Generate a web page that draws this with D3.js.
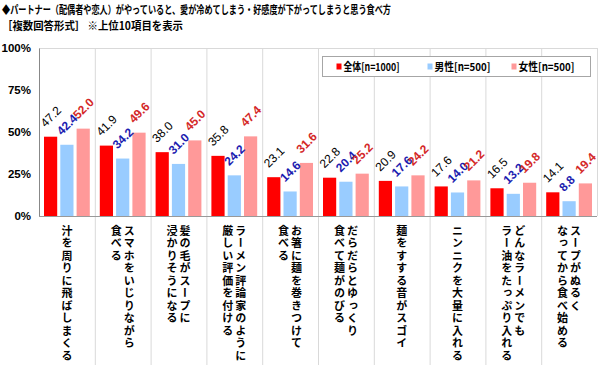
<!DOCTYPE html>
<html>
<head>
<meta charset="utf-8">
<script src="https://cdn.jsdelivr.net/npm/d3@7"></script>
<style>
  body { margin: 0; background: #fff; }
  svg { display: block; }
</style>
</head>
<body>
<div id="chartHolder"></div>
<script>
// data
var categories = [
  ["汁を周りに飛ばしまくる"],
  ["スマホをいじりながら", "食べる"],
  ["髪の毛がスープに", "浸かりそうになる"],
  ["ラーメン評論家のように", "厳しい評価を付ける"],
  ["お箸に麺を巻きつけて", "食べる"],
  ["だらだらとゆっくり", "食べて麺がのびる"],
  ["麺をすする音がスゴイ"],
  ["ニンニクを大量に入れる"],
  ["どんなラーメンでも", "ラー油をたっぷり入れる"],
  ["スープがぬるく", "なってから食べ始める"]
];
var totalValues = [47.2, 41.9, 38.0, 35.8, 23.1, 22.8, 20.9, 17.6, 16.5, 14.1];
var maleValues = [42.4, 34.2, 31.0, 24.2, 14.6, 20.4, 17.6, 14.0, 13.2, 8.8];
var femaleValues = [52.0, 49.6, 45.0, 47.4, 31.6, 25.2, 24.2, 21.2, 19.8, 19.4];
var seriesNames = ["全体[n=1000]", "男性[n=500]", "女性[n=500]"];
var yTicks = [0, 25, 50, 75, 100];
var titleLines = [
  "◆パートナー（配偶者や恋人）がやっていると、愛が冷めてしまう・好感度が下がってしまうと思う食べ方",
  "［複数回答形式］ ※上位10項目を表示"
];

var barColors = ["#ff0000", "#99ccff", "#ff9999"];
var labelColors = ["#000000", "#1c1cb0", "#d42828"];

var jpFont = "'Noto Sans CJK JP', sans-serif";
var numFont = "'Liberation Sans', Arial, sans-serif";

var series = [totalValues, maleValues, femaleValues];
var rows = categories.map(function (c, i) {
  return { idx: i, values: series.map(function (s) { return s[i]; }) };
});

var margin = { top: 48, right: 3, bottom: 149, left: 39 },
  fullW = 600, fullH = 365,
  width = fullW - margin.left - margin.right,
  height = fullH - margin.top - margin.bottom;

var svg = d3
  .select("#chartHolder")
  .append("svg")
  .attr("width", fullW)
  .attr("height", fullH);

// title
svg.selectAll(".title")
  .data(titleLines)
  .enter()
  .append("text")
  .attr("class", "title")
  .attr("x", 2)
  .attr("y", function (d, i) { return 14 + i * 16; })
  .attr("textLength", function (d, i) { return i === 0 ? 389 : 181; })
  .attr("lengthAdjust", "spacingAndGlyphs")
  .style("font-family", jpFont)
  .style("font-size", "11px")
  .style("font-weight", "bold")
  .text(function (d) { return d; });

var g = svg.append("g")
  .attr("transform", "translate(" + margin.left + "," + margin.top + ")");

var x = d3.scaleBand()
  .domain(rows.map(function (d) { return d.idx; }))
  .range([0, width])
  .padding(0);

var xInner = d3.scaleBand()
  .domain([0, 1, 2])
  .range([5, x.bandwidth() - 5])
  .paddingInner(0.19);

var y = d3.scaleLinear()
  .domain([0, 100])
  .range([height, 0]);

// vertical separators (run down into the label area)
var seps = d3.range(1, categories.length).map(function (i) { return x(i); });
g.selectAll(".sep")
  .data(seps)
  .enter()
  .append("line")
  .attr("class", "sep")
  .attr("x1", function (d) { return d + 0.5; })
  .attr("x2", function (d) { return d + 0.5; })
  .attr("y1", 0)
  .attr("y2", fullH - margin.top)
  .attr("stroke", "#d9d9d9")
  .attr("stroke-width", 1);

// plot frame top / right
g.append("line")
  .attr("x1", 0).attr("x2", width + 0.5)
  .attr("y1", 0.5).attr("y2", 0.5)
  .attr("stroke", "#d9d9d9");
g.append("line")
  .attr("x1", width + 0.5).attr("x2", width + 0.5)
  .attr("y1", 0).attr("y2", height)
  .attr("stroke", "#d9d9d9");

// bars
var groups = g.selectAll(".grp")
  .data(rows)
  .enter()
  .append("g")
  .attr("class", "grp")
  .attr("transform", function (d) { return "translate(" + x(d.idx) + ",0)"; });

groups.selectAll("rect")
  .data(function (d) { return d.values; })
  .enter()
  .append("rect")
  .attr("x", function (d, i) { return xInner(i); })
  .attr("y", function (d) { return y(d); })
  .attr("width", xInner.bandwidth())
  .attr("height", function (d) { return height - y(d); })
  .attr("fill", function (d, i) { return barColors[i]; });

// value labels: wrapper g does the move + rotate
groups.selectAll(".val")
  .data(function (d) { return d.values; })
  .enter()
  .append("g")
  .attr("class", "val")
  .attr("transform", function (d, i) {
    return "translate(" + (xInner(i) + 1.5) + "," + (y(d) - 9) + ") rotate(-45)";
  })
  .append("text")
  .attr("fill", function (d, i) { return labelColors[i]; })
  .style("font-family", numFont)
  .style("font-size", "12px")
  .style("font-weight", function (d, i) { return i === 0 ? "normal" : "bold"; })
  .text(function (d) { return d3.format(".1f")(d); });

// y axis
g.append("g")
  .call(d3.axisLeft(y).tickValues(yTicks).tickSize(0).tickPadding(8)
    .tickFormat(function (d) { return d + "%"; }))
  .call(function (a) { a.select(".domain").attr("stroke", "#888"); })
  .selectAll("text")
  .attr("fill", "#000")
  .style("font-family", numFont)
  .style("font-size", "11.5px")
  .style("font-weight", "bold");

// x baseline
g.append("line")
  .attr("x1", 0).attr("x2", width)
  .attr("y1", height + 0.5).attr("y2", height + 0.5)
  .attr("stroke", "#999");

// category labels, vertical text
var catG = g.selectAll(".cat")
  .data(categories)
  .enter()
  .append("g")
  .attr("class", "cat")
  .attr("transform", function (d, i) {
    return "translate(" + (x(i) + x.bandwidth() / 2) + "," + (height + 9) + ")";
  });

catG.selectAll("text")
  .data(function (d) {
    return d.map(function (t, j) { return { t: t, j: j, n: d.length }; });
  })
  .enter()
  .append("text")
  .attr("x", function (d) { return ((d.n - 1) / 2 - d.j) * 13; })
  .attr("y", 0)
  .style("writing-mode", "vertical-rl")
  .style("font-family", jpFont)
  .style("font-size", "11px")
  .style("font-weight", "bold")
  .style("letter-spacing", "1.5px")
  .text(function (d) { return d.t; });

// legend
var legend = svg.append("g").attr("transform", "translate(322.5,56.5)");
legend.append("rect")
  .attr("width", 268)
  .attr("height", 20)
  .attr("fill", "#fff")
  .attr("stroke", "#a6a6a6");

var legendX = [14, 105, 189];
var li = legend.selectAll(".li")
  .data(seriesNames)
  .enter()
  .append("g")
  .attr("class", "li")
  .attr("transform", function (d, i) { return "translate(" + legendX[i] + ",0)"; });
li.append("rect")
  .attr("y", 7)
  .attr("width", 5)
  .attr("height", 6)
  .attr("fill", function (d, i) { return barColors[i]; });
li.append("text")
  .attr("x", 7)
  .attr("y", 14.5)
  .attr("textLength", 56)
  .attr("lengthAdjust", "spacingAndGlyphs")
  .style("font-family", jpFont)
  .style("font-size", "11px")
  .style("font-weight", "bold")
  .text(function (d) { return d; });
</script>
</body>
</html>
